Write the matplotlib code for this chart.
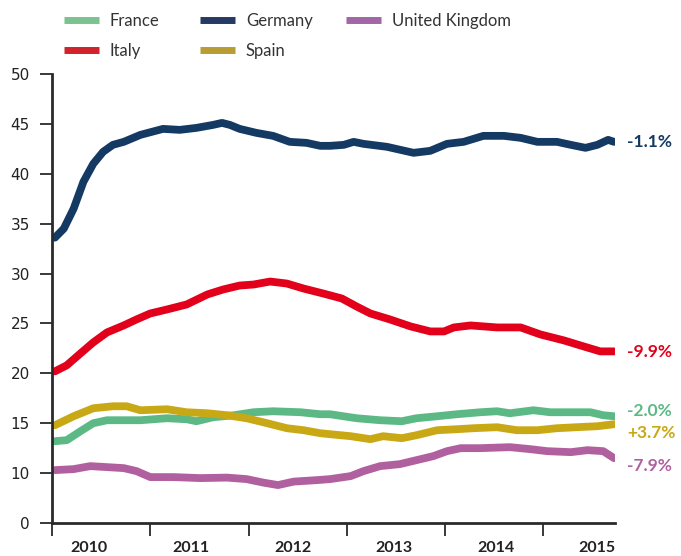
import numpy as np
import matplotlib.pyplot as plt
from matplotlib.lines import Line2D

# Values (x in decimal years)
germany_x = [2010.03, 2010.12, 2010.22, 2010.32, 2010.42, 2010.52, 2010.62, 2010.73, 2010.90,
             2011.13, 2011.30, 2011.47, 2011.64, 2011.73, 2011.81, 2011.91, 2012.08, 2012.25,
             2012.42, 2012.59, 2012.73, 2012.83, 2012.97, 2013.07, 2013.17, 2013.41, 2013.68,
             2013.85, 2014.02, 2014.19, 2014.39, 2014.60, 2014.77, 2014.94, 2015.14, 2015.28,
             2015.43, 2015.55, 2015.66, 2015.72]
germany = [33.6, 34.5, 36.5, 39.2, 41.0, 42.2, 42.9, 43.2, 43.9,
           44.5, 44.4, 44.6, 44.9, 45.1, 44.9, 44.5, 44.1, 43.8,
           43.2, 43.1, 42.8, 42.8, 42.9, 43.2, 43.0, 42.7, 42.1,
           42.3, 43.0, 43.2, 43.8, 43.8, 43.6, 43.2, 43.2, 42.9,
           42.6, 42.9, 43.4, 43.2]

italy_x = [2010.03, 2010.15, 2010.29, 2010.42, 2010.56, 2010.73, 2010.86, 2011.00, 2011.17,
           2011.37, 2011.58, 2011.74, 2011.91, 2012.05, 2012.22, 2012.39, 2012.56, 2012.76,
           2012.95, 2013.10, 2013.24, 2013.44, 2013.65, 2013.85, 2013.99, 2014.09, 2014.26,
           2014.53, 2014.77, 2014.97, 2015.21, 2015.41, 2015.58, 2015.72]
italy = [20.2, 20.8, 22.0, 23.1, 24.1, 24.8, 25.4, 26.0, 26.4,
         26.9, 27.9, 28.4, 28.8, 28.9, 29.2, 29.0, 28.5, 28.0,
         27.5, 26.7, 26.0, 25.4, 24.7, 24.2, 24.2, 24.6, 24.8,
         24.6, 24.6, 23.9, 23.3, 22.7, 22.2, 22.2]

spain_x = [2010.03, 2010.22, 2010.42, 2010.62, 2010.76, 2010.90, 2011.17, 2011.37, 2011.58,
           2011.78, 2011.98, 2012.19, 2012.39, 2012.56, 2012.73, 2012.83, 2013.04, 2013.24,
           2013.37, 2013.56, 2013.71, 2013.92, 2014.12, 2014.29, 2014.53, 2014.73, 2014.94,
           2015.14, 2015.34, 2015.55, 2015.72]
spain = [14.8, 15.7, 16.5, 16.7, 16.7, 16.3, 16.4, 16.1, 16.0,
         15.8, 15.5, 15.0, 14.5, 14.3, 14.0, 13.9, 13.7, 13.4,
         13.7, 13.5, 13.8, 14.3, 14.4, 14.5, 14.6, 14.3, 14.3,
         14.5, 14.6, 14.7, 14.9]

france_x = [2010.03, 2010.15, 2010.29, 2010.42, 2010.56, 2010.90, 2011.17, 2011.37, 2011.47,
            2011.64, 2011.85, 2012.05, 2012.25, 2012.53, 2012.73, 2012.83, 2013.10, 2013.34,
            2013.56, 2013.71, 2013.92, 2014.12, 2014.36, 2014.53, 2014.66, 2014.90, 2015.07,
            2015.28, 2015.48, 2015.61, 2015.72]
france = [13.2, 13.3, 14.2, 15.0, 15.3, 15.3, 15.5, 15.4, 15.2,
          15.6, 15.8, 16.1, 16.2, 16.1, 15.9, 15.9, 15.5, 15.3,
          15.2, 15.5, 15.7, 15.9, 16.1, 16.2, 16.0, 16.3, 16.1,
          16.1, 16.1, 15.8, 15.7]

uk_x = [2010.03, 2010.22, 2010.39, 2010.56, 2010.73, 2010.86, 2011.00, 2011.24, 2011.51,
        2011.78, 2011.98, 2012.15, 2012.30, 2012.46, 2012.70, 2012.83, 2013.04, 2013.17,
        2013.34, 2013.54, 2013.71, 2013.88, 2014.02, 2014.16, 2014.36, 2014.66, 2014.87,
        2015.04, 2015.28, 2015.45, 2015.61, 2015.72]
uk = [10.3, 10.4, 10.7, 10.6, 10.5, 10.2, 9.6, 9.6, 9.5,
      9.55, 9.4, 9.05, 8.8, 9.15, 9.3, 9.4, 9.7, 10.2,
      10.7, 10.9, 11.3, 11.7, 12.2, 12.5, 12.5, 12.6, 12.4,
      12.2, 12.1, 12.3, 12.2, 11.5]

names = ['France', 'Italy', 'Germany', 'Spain', 'United Kingdom']
changes = ['-2.0%', '-9.9%', '-1.1%', '+3.7%', '-7.9%']
label_y = [16.2, 22.1, 43.2, 14.0, 10.7]
colors = ['#5cb985', '#e2001a', '#143a64', '#c9a816', '#b0609f']
legend_colors = ['#7bc28f', '#d0232b', '#243a63', '#b89d35', '#a265a6']

years = [2010, 2011, 2012, 2013, 2014, 2015]
ytick_vals = [5, 10, 15, 20, 25, 30, 35, 40, 45, 50]
ytick_labels = ['0', '10', '15', '20', '25', '30', '35', '40', '45', '50']

series = [(france_x, france), (italy_x, italy), (germany_x, germany),
          (spain_x, spain), (uk_x, uk)]

fig = plt.figure(figsize=(6.81, 5.56), dpi=100)
ax = fig.add_axes([52 / 681, 33 / 556, (615 - 52) / 681, (523 - 74) / 556])

for (xs, ys), c in zip(series, colors):
    ax.plot(xs, ys, color=c, lw=5.6, solid_capstyle='round', solid_joinstyle='round')

# end-of-line change labels
for (xs, ys), c, txt, ly in zip(series, colors, changes, label_y):
    ax.text(2015.855, ly, txt, color=c, fontsize=12.5, fontweight='bold', family='Lato',
            va='center', ha='left', clip_on=False)

ax.set_xlim(2010, 2015.73)
ax.set_ylim(5, 50)

for s in ['top', 'right']:
    ax.spines[s].set_visible(False)
for s in ['left', 'bottom']:
    ax.spines[s].set_linewidth(2)
    ax.spines[s].set_color('#2a2a2a')

ax.set_yticks(ytick_vals)
ax.set_yticklabels(ytick_labels)
ax.tick_params(axis='y', direction='out', length=9, width=1.3, color='#2a2a2a',
               labelsize=11, labelcolor='#222222', pad=7)

ax.set_xticks(years)
ax.set_xticklabels([])
ax.set_xticks([y + 0.38 + 0.034 * (y - 2010) for y in years], minor=True)
ax.set_xticklabels([str(y) for y in years], minor=True)
ax.tick_params(axis='x', which='major', direction='out', length=9, width=1.3, color='#2a2a2a')
ax.tick_params(axis='x', which='minor', length=0, labelcolor='#222222', pad=13)
for t in ax.get_xticklabels(minor=True):
    t.set_fontweight('bold')
    t.set_family('Lato')
    t.set_fontsize(11.5)

# legend in three columns, placed by hand
handles = [Line2D([], [], color=c, lw=5, solid_capstyle='butt') for c in legend_colors]
cols = [([0, 1], 64), ([2, 3], 200), ([4], 346)]
for idx, xpx in cols:
    leg = fig.legend([handles[i] for i in idx], [names[i] for i in idx],
                     loc='upper left', bbox_to_anchor=(xpx / 681, 1 - 13 / 556),
                     frameon=False, borderpad=0, borderaxespad=0, handlelength=2.1,
                     handletextpad=0.65, labelspacing=0.85,
                     prop={'family': 'Lato', 'size': 12})
    for t in leg.get_texts():
        t.set_color('#333333')

fig.savefig('out.png', dpi=100)
